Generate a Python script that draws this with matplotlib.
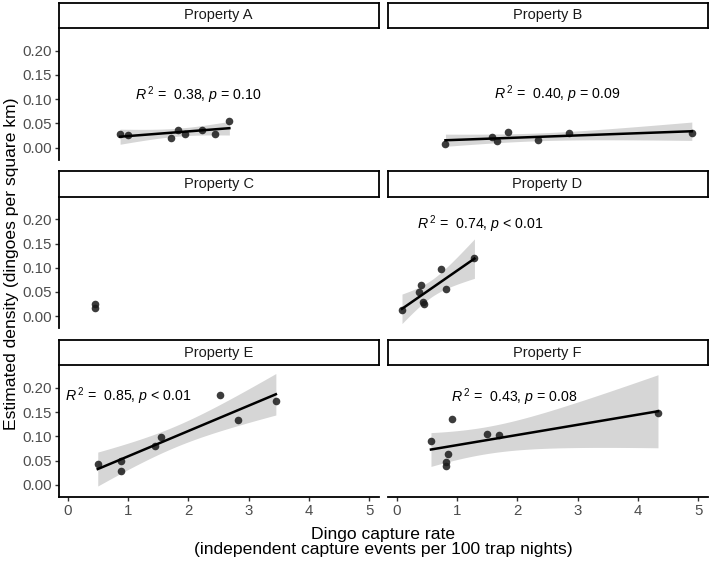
import numpy as np
import matplotlib
matplotlib.use('Agg')
import matplotlib.pyplot as plt

plt.rcParams['font.family'] = ['Liberation Sans', 'DejaVu Sans']
plt.rcParams['mathtext.fontset'] = 'custom'
plt.rcParams['mathtext.rm'] = 'Liberation Sans'
plt.rcParams['mathtext.it'] = 'Liberation Sans:italic'

# data
properties = ['Property A', 'Property B', 'Property C', 'Property D', 'Property E', 'Property F']

a_x = [0.87, 1.00, 1.71, 1.83, 1.95, 2.22, 2.45, 2.68]
a_y = [0.028, 0.025, 0.019, 0.037, 0.027, 0.037, 0.027, 0.054]
b_x = [0.81, 1.58, 1.67, 1.84, 2.35, 2.85, 4.89]
b_y = [0.008, 0.022, 0.013, 0.032, 0.016, 0.031, 0.030]
c_x = [0.46, 0.46]
c_y = [0.025, 0.017]
d_x = [0.09, 0.37, 0.41, 0.43, 0.46, 0.73, 0.82, 1.29]
d_y = [0.012, 0.050, 0.065, 0.030, 0.025, 0.097, 0.057, 0.120]
e_x = [0.50, 0.89, 0.89, 1.44, 1.55, 2.53, 2.83, 3.45]
e_y = [0.042, 0.048, 0.028, 0.080, 0.098, 0.186, 0.133, 0.172]
f_x = [0.57, 0.92, 0.86, 0.82, 0.82, 1.49, 1.70, 4.33]
f_y = [0.090, 0.135, 0.063, 0.047, 0.039, 0.104, 0.102, 0.148]

labels = [r'$R^{\,2}$ =  0.38, $p$ = 0.10', r'$R^{\,2}$ =  0.40, $p$ = 0.09', None,
          r'$R^{\,2}$ =  0.74, $p$ < 0.01', r'$R^{\,2}$ =  0.85, $p$ < 0.01',
          r'$R^{\,2}$ =  0.43, $p$ = 0.08']
label_pos = [(1.12, 0.108), (1.61, 0.110), None, (0.34, 0.190), (-0.04, 0.183), (0.90, 0.181)]

xs = [a_x, b_x, c_x, d_x, e_x, f_x]
ys = [a_y, b_y, c_y, d_y, e_y, f_y]

# 97.5% t quantiles by degrees of freedom
t_crit = {5: 2.571, 6: 2.447, 7: 2.365}

W, H = 709, 562
fig = plt.figure(figsize=(W / 100, H / 100), dpi=100)

col_left = [58.5, 387.5]
panel_w = 320
rows = [(2.7, 28.0), (171.3, 196.6), (339.9, 365.2)]
panel_h = 131.6

grey = '#4D4D4D'

for i, name in enumerate(properties):
    r, c = divmod(i, 2)
    x0 = col_left[c]
    strip_top, panel_top = rows[r]
    ax = fig.add_axes([x0 / W, 1 - (panel_top + panel_h) / H, panel_w / W, panel_h / H])
    st = fig.add_axes([x0 / W, 1 - panel_top / H, panel_w / W, (panel_top - strip_top) / H])
    st.set_xticks([])
    st.set_yticks([])
    for s in st.spines.values():
        s.set_linewidth(1.3)
        s.set_color('black')
    st.text(0.5, 0.5, name, ha='center', va='center', fontsize=10.5, color='#1A1A1A')

    x = np.array(xs[i])
    y = np.array(ys[i])
    if len(x) > 2:
        n = len(x)
        slope, intercept = np.polyfit(x, y, 1)
        resid = y - (slope * x + intercept)
        s2 = np.sum(resid ** 2) / (n - 2)
        xx = np.linspace(x.min(), x.max(), 80)
        fit = slope * xx + intercept
        se = np.sqrt(s2 * (1 / n + (xx - x.mean()) ** 2 / np.sum((x - x.mean()) ** 2)))
        t = t_crit[n - 2]
        ax.fill_between(xx, fit - t * se, fit + t * se, color='#999999', alpha=0.4, lw=0, zorder=1)
    ax.scatter(x, y, s=30, color='#1A1A1A', alpha=0.85, lw=0, zorder=2)
    if len(x) > 2:
        ax.plot(xx, fit, color='black', lw=1.8, zorder=3)
    if labels[i]:
        ax.text(label_pos[i][0], label_pos[i][1], labels[i], fontsize=10.2, va='center', ha='left', color='black')

    ax.set_xlim(-0.15, 5.15)
    ax.set_ylim(-0.025, 0.247)
    for s in ['top', 'right']:
        ax.spines[s].set_visible(False)
    ax.spines['left'].set_visible(c == 0)
    ax.spines['bottom'].set_visible(r == 2)
    ax.spines['left'].set_linewidth(1.3)
    ax.spines['bottom'].set_linewidth(1.3)
    ax.set_xticks(range(6))
    ax.set_yticks([0, 0.05, 0.10, 0.15, 0.20])
    ax.tick_params(axis='both', length=3, width=1, color='#333333', labelcolor=grey, labelsize=10.8, pad=2)
    if c == 0:
        ax.set_yticklabels(['0.00', '0.05', '0.10', '0.15', '0.20'])
    else:
        ax.tick_params(axis='y', left=False, labelleft=False)
    if r != 2:
        ax.tick_params(axis='x', bottom=False, labelbottom=False)

fig.text(383 / W, 1 - 542 / H, 'Dingo capture rate\n(independent capture events per 100 trap nights)',
         ha='center', va='center', fontsize=12.6, color='black', linespacing=1.05)
fig.text(12 / W, 1 - 264 / H, 'Estimated density (dingoes per square km)', rotation=90,
         ha='center', va='center', fontsize=12.6, color='black')

fig.savefig('out.png', dpi=100)
